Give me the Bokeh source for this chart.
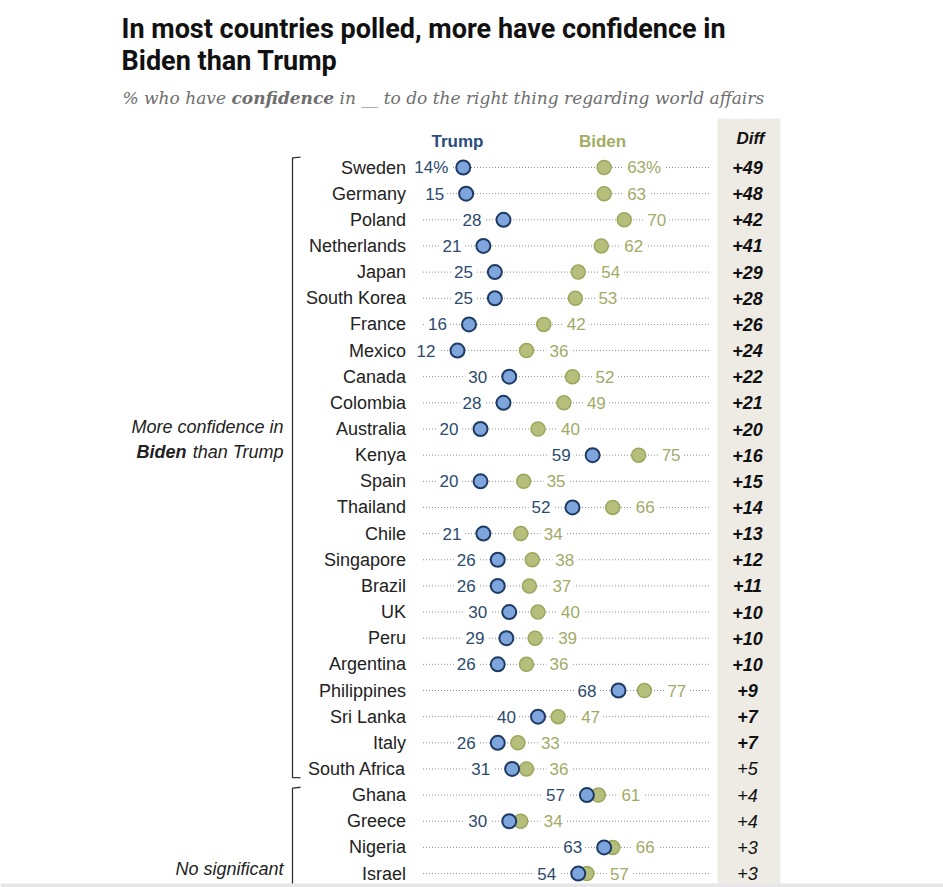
from bokeh.plotting import figure
from bokeh.models import Range1d, BoxAnnotation, ColumnDataSource
from bokeh.core.properties import value
from bokeh.embed import file_html
from bokeh.resources import INLINE

# ---------------- data ----------------
countries = ["Sweden", "Germany", "Poland", "Netherlands", "Japan", "South Korea",
             "France", "Mexico", "Canada", "Colombia", "Australia", "Kenya", "Spain",
             "Thailand", "Chile", "Singapore", "Brazil", "UK", "Peru", "Argentina",
             "Philippines", "Sri Lanka", "Italy", "South Africa", "Ghana", "Greece",
             "Nigeria", "Israel"]
trump = [14, 15, 28, 21, 25, 25, 16, 12, 30, 28, 20, 59, 20, 52, 21, 26, 26, 30, 29, 26,
         68, 40, 26, 31, 57, 30, 63, 54]
biden = [63, 63, 70, 62, 54, 53, 42, 36, 52, 49, 40, 75, 35, 66, 34, 38, 37, 40, 39, 36,
         77, 47, 33, 36, 61, 34, 66, 57]
diff_labels = ["+49", "+48", "+42", "+41", "+29", "+28", "+26", "+24", "+22", "+21", "+20",
               "+16", "+15", "+14", "+13", "+12", "+11", "+10", "+10", "+10", "+9", "+7",
               "+7", "+5", "+4", "+4", "+3", "+3"]
diff_styles = ["bold italic"] * 23 + ["italic"] + ["italic"] * 4
n_significant = 24
scale_min, scale_max = 0, 100

title_lines = ["In most countries polled, more have confidence in", "Biden than Trump"]
subtitle_parts = ["% who have", "confidence",
                  "in __ to do the right thing regarding world affairs"]

# ---------------- layout helpers ----------------
W, H = 943, 887
X0_PX = 422.5          # px where value 0 sits
PX_PER_UNIT = 2.875
ROW0_PX = 167.0        # px of first row
ROW_PX = 26.15


def fx(px):
    return (px - X0_PX) / PX_PER_UNIT


def fy(py):
    return (py - ROW0_PX) / ROW_PX


rows = list(range(len(countries)))
trump_labels = [f"{v}%" if i == 0 else str(v) for i, v in enumerate(trump)]
biden_labels = [f"{v}%" if i == 0 else str(v) for i, v in enumerate(biden)]
trump_off = [-12 if "%" in t else -19 for t in trump_labels]

src = ColumnDataSource(dict(
    country=countries, trump=trump, biden=biden, row=rows,
    tl=trump_labels, bl=biden_labels, toff=trump_off,
    diff=diff_labels, dstyle=diff_styles,
    zero=[scale_min] * len(rows), hundred=[scale_max] * len(rows),
    dx=[fx(747)] * len(rows),
))

p = figure(width=W, height=H,
           x_range=Range1d(fx(0), fx(W)),
           y_range=Range1d(start=fy(H), end=fy(0)),
           output_backend="svg", toolbar_location=None,
           x_axis_location=None, y_axis_location=None,
           min_border=0, min_border_left=0, min_border_right=0,
           min_border_top=0, min_border_bottom=0)
p.outline_line_color = None
p.grid.visible = False
p.background_fill_color = "white"

SANS = "Liberation Sans"

# diff column background
p.add_layout(BoxAnnotation(left=fx(717), right=fx(780), top=fy(118), bottom=fy(883),
                           fill_color="#EEEBE5", fill_alpha=1, line_color=None,
                           level="underlay"))
# light rule at the very bottom of the page
p.add_layout(BoxAnnotation(left=fx(0), right=fx(W), top=fy(883), bottom=fy(H),
                           fill_color="#E6E6E6", fill_alpha=1, line_color=None,
                           level="underlay"))

# title
p.text(x=[fx(121)] * 2, y=[fy(28), fy(60)], text=title_lines,
       text_font=value("Roboto"), text_font_style="bold",
       text_font_size="27px", text_color="#111111", text_baseline="middle",
       text_align="left")

# subtitle
p.text(x=[fx(122), fx(231), fx(339)], y=[fy(97)] * 3, text=subtitle_parts,
       text_font=value("DejaVu Serif"),
       text_font_style=["italic", "bold italic", "italic"],
       text_font_size="17px", text_color="#6e6e6e", text_baseline="middle",
       text_align="left")

# headers
p.text(x=[fx(457)], y=[fy(141)], text=["Trump"], text_font=value(SANS),
       text_font_style="bold", text_font_size="17px", text_color="#2B4C7E",
       text_align="center", text_baseline="middle")
p.text(x=[fx(602)], y=[fy(141)], text=["Biden"], text_font=value(SANS),
       text_font_style="bold", text_font_size="17px", text_color="#A3AC62",
       text_align="center", text_baseline="middle")
p.text(x=[fx(750)], y=[fy(138)], text=["Diff"], text_font=value(SANS),
       text_font_style="bold italic", text_font_size="17px", text_color="#111111",
       text_align="center", text_baseline="middle")

# dotted guide lines
p.segment(x0="zero", x1="hundred", y0="row", y1="row", source=src,
          line_color="#8f8f8f", line_dash="1 2", line_width=1)

# value labels (white background hides the dotted line)
p.text(x="trump", y="row", text="tl", source=src, x_offset="toff",
       text_align="right", text_baseline="middle", text_font=value(SANS),
       text_font_size="17px", text_color="#2C4A6E",
       background_fill_color="white", padding=3)
p.text(x="biden", y="row", text="bl", source=src, x_offset=20,
       text_align="left", text_baseline="middle", text_font=value(SANS),
       text_font_size="17px", text_color="#A2AA68",
       background_fill_color="white", padding=3)

# dots
p.scatter(x="biden", y="row", source=src, size=14, fill_color="#B6BE7C",
          line_color="#9DA65C", line_width=1.5)
p.scatter(x="trump", y="row", source=src, size=14, fill_color="#7EA6DC",
          line_color="#1E3B66", line_width=2)

# country labels
p.text(x="zero", y="row", text="country", source=src, x_offset=-17,
       text_align="right", text_baseline="middle", text_font=value(SANS),
       text_font_size="18px", text_color="#222222")

# diff values
p.text(x="dx", y="row", text="diff", source=src, text_align="center",
       text_baseline="middle", text_font=value(SANS), text_font_style="dstyle",
       text_font_size="18px", text_color="#111111")

# brackets
last_sig = n_significant - 1
bx, bt = fx(292), fx(300)
p.multi_line(xs=[[bt, bx, bx, bt], [bt, bx, bx]],
             ys=[[-0.4, -0.37, last_sig + 0.33, last_sig + 0.33],
                 [n_significant - 0.3, n_significant - 0.27, fy(883)]],
             line_color="#333333", line_width=1.3)

# group labels
gx = fx(283)
p.text(x=[gx], y=[fy(426)], text=["More confidence in"], text_font=value(SANS),
       text_font_style="italic", text_font_size="18px", text_color="#222222",
       text_align="right", text_baseline="middle")
p.text(x=[gx], y=[fy(451)], text=["than Trump"], text_font=value(SANS),
       text_font_style="italic", text_font_size="18px", text_color="#222222",
       text_align="right", text_baseline="middle")
p.text(x=[gx], y=[fy(451)], text=["Biden"], x_offset=-97, text_font=value(SANS),
       text_font_style="bold italic", text_font_size="18px", text_color="#222222",
       text_align="right", text_baseline="middle")
p.text(x=[gx], y=[fy(868)], text=["No significant"], text_font=value(SANS),
       text_font_style="italic", text_font_size="18px", text_color="#222222",
       text_align="right", text_baseline="middle")

open("out.html", "w").write(file_html(p, INLINE))
